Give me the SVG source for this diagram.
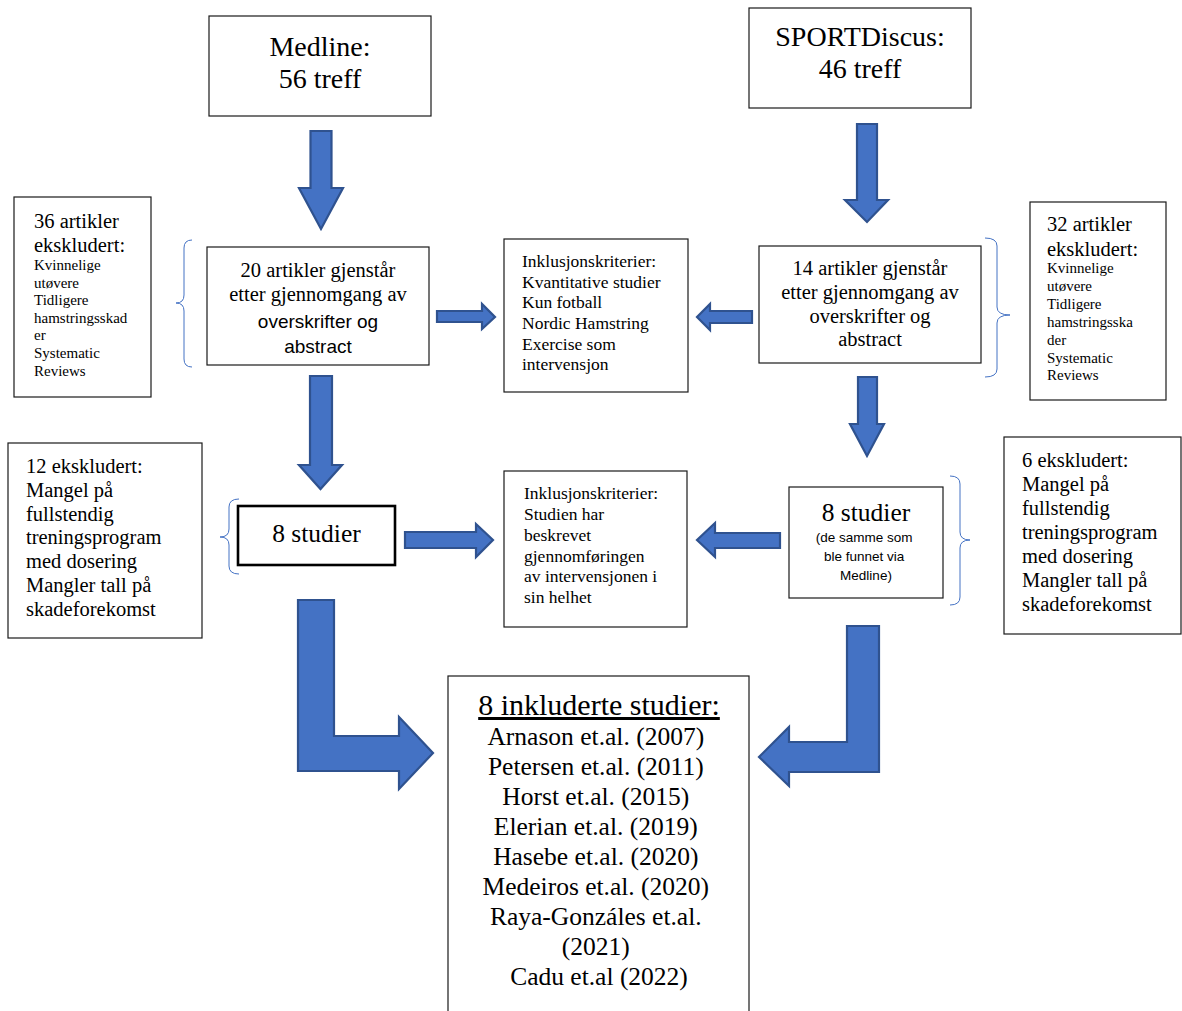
<svg xmlns="http://www.w3.org/2000/svg" width="1182" height="1011" viewBox="0 0 1182 1011">
<style>
.box{fill:#fff;stroke:#1a1a1a;stroke-width:1.2}
.thick{fill:#fff;stroke:#000;stroke-width:2.6}
.arrow{fill:#4472C4;stroke:#2F528F;stroke-width:2.2;stroke-linejoin:miter}
.brace{fill:none;stroke:#4472C4;stroke-width:1}
.s{font-family:"Liberation Serif","Times New Roman",serif;fill:#000}
.a{font-family:"Liberation Sans",Arial,sans-serif;fill:#000}
.c{text-anchor:middle}
</style>
<rect width="1182" height="1011" fill="#fff"/>
<g id="connectors">
  <path class="arrow" d="M310.5,131 L331.5,131 L331.5,188 L343,188 L321,229 L299,188 L310.5,188 Z"/>
  <path class="arrow" d="M857,124 L877,124 L877,200 L888,200 L867,222 L845,200 L857,200 Z"/>
  <path class="arrow" d="M310,376 L332,376 L332,465 L342,465 L320.5,489 L299,465 L310,465 Z"/>
  <path class="arrow" d="M858,377 L877,377 L877,424 L884,424 L867,456 L850,424 L858,424 Z"/>
  <path class="arrow" d="M437,311 L482,311 L482,304 L495,317 L482,329 L482,322 L437,322 Z"/>
  <path class="arrow" d="M752,311 L710,311 L710,304 L697,317 L710,330 L710,323 L752,323 Z"/>
  <path class="arrow" d="M405,532 L476,532 L476,524 L493,540 L476,557 L476,548 L405,548 Z"/>
  <path class="arrow" d="M780,533 L715,533 L715,523 L697,540 L715,557 L715,548 L780,548 Z"/>
  <path class="arrow" d="M298,600 L334,600 L334,736 L399,736 L399,717 L433,753 L399,789 L399,771 L298,771 Z"/>
  <path class="arrow" d="M847,626 L879,626 L879,772 L789,772 L789,786 L759,757 L789,727 L789,742 L847,742 Z"/>
  <path class="brace" d="M192,240 Q184,240 184,248 L184,295 Q184,303 176,303 Q184,303 184,311 L184,359 Q184,367 192,367"/>
  <path class="brace" d="M239,499 Q229,499 229,507 L229,529 Q229,537 220,537 Q229,537 229,545 L229,566 Q229,574 239,574"/>
  <path class="brace" d="M985,238 Q997,238 997,246 L997,307 Q997,315 1010,315 Q997,315 997,323 L997,369 Q997,377 985,377"/>
  <path class="brace" d="M950,476 Q960,476 960,484 L960,532 Q960,540 970,540 Q960,540 960,548 L960,597 Q960,605 950,605"/>
</g>
<g id="medline">
  <rect class="box" x="209" y="16" width="222" height="100"/>
  <text class="s c" x="320" y="56" font-size="28">Medline:</text>
  <text class="s c" x="320" y="88" font-size="28">56 treff</text>
</g>
<g id="sportdiscus">
  <rect class="box" x="749" y="8" width="222" height="100"/>
  <text class="s c" x="860" y="46" font-size="28">SPORTDiscus:</text>
  <text class="s c" x="860" y="78" font-size="28">46 treff</text>
</g>
<g id="excl36">
  <rect class="box" x="14" y="197" width="137" height="200"/>
  <text class="s" x="34" y="228" font-size="20.5">36 artikler</text>
  <text class="s" x="34" y="252" font-size="20.5">ekskludert:</text>
  <text class="s" font-size="15">
    <tspan x="34" y="270">Kvinnelige</tspan>
    <tspan x="34" y="287.6">utøvere</tspan>
    <tspan x="34" y="305.2">Tidligere</tspan>
    <tspan x="34" y="322.8">hamstringsskad</tspan>
    <tspan x="34" y="340.4">er</tspan>
    <tspan x="34" y="358">Systematic</tspan>
    <tspan x="34" y="375.6">Reviews</tspan>
  </text>
</g>
<g id="remain20">
  <rect class="box" x="207" y="247" width="222" height="118"/>
  <text class="s c" x="318" y="277" font-size="20.5">20 artikler gjenstår</text>
  <text class="s c" x="318" y="301" font-size="20.5">etter gjennomgang av</text>
  <text class="a c" x="318" y="328" font-size="19">overskrifter og</text>
  <text class="a c" x="318" y="353" font-size="19">abstract</text>
</g>
<g id="inclusion1">
  <rect class="box" x="504" y="239" width="184" height="153"/>
  <text class="s" font-size="17.5">
    <tspan x="522" y="267">Inklusjonskriterier:</tspan>
    <tspan x="522" y="287.5">Kvantitative studier</tspan>
    <tspan x="522" y="308">Kun fotball</tspan>
    <tspan x="522" y="328.5">Nordic Hamstring</tspan>
    <tspan x="522" y="350">Exercise som</tspan>
    <tspan x="522" y="370">intervensjon</tspan>
  </text>
</g>
<g id="remain14">
  <rect class="box" x="759" y="246" width="222" height="117"/>
  <text class="s c" x="870" y="275" font-size="20.5">14 artikler gjenstår</text>
  <text class="s c" x="870" y="299" font-size="20.5">etter gjennomgang av</text>
  <text class="s c" x="870" y="323" font-size="20.5">overskrifter og</text>
  <text class="s c" x="870" y="346" font-size="20.5">abstract</text>
</g>
<g id="excl32">
  <rect class="box" x="1030" y="202" width="136" height="198"/>
  <text class="s" x="1047" y="231" font-size="20.5">32 artikler</text>
  <text class="s" x="1047" y="256" font-size="20.5">ekskludert:</text>
  <text class="s" font-size="15">
    <tspan x="1047" y="273">Kvinnelige</tspan>
    <tspan x="1047" y="291">utøvere</tspan>
    <tspan x="1047" y="309">Tidligere</tspan>
    <tspan x="1047" y="327">hamstringsska</tspan>
    <tspan x="1047" y="344.5">der</tspan>
    <tspan x="1047" y="362.5">Systematic</tspan>
    <tspan x="1047" y="380">Reviews</tspan>
  </text>
</g>
<g id="excl12">
  <rect class="box" x="8" y="443" width="194" height="195"/>
  <text class="s" font-size="20.5">
    <tspan x="26" y="473">12 ekskludert:</tspan>
    <tspan x="26" y="497">Mangel på</tspan>
    <tspan x="26" y="520.5">fullstendig</tspan>
    <tspan x="26" y="544">treningsprogram</tspan>
    <tspan x="26" y="568">med dosering</tspan>
    <tspan x="26" y="592">Mangler tall på</tspan>
    <tspan x="26" y="615.5">skadeforekomst</tspan>
  </text>
</g>
<g id="studies8left">
  <rect class="thick" x="238" y="506" width="157" height="59"/>
  <text class="s c" x="316.5" y="542" font-size="25.5">8 studier</text>
</g>
<g id="inclusion2">
  <rect class="box" x="504" y="471" width="183" height="156"/>
  <text class="s" font-size="17.5">
    <tspan x="524" y="499">Inklusjonskriterier:</tspan>
    <tspan x="524" y="520">Studien har</tspan>
    <tspan x="524" y="541">beskrevet</tspan>
    <tspan x="524" y="561.5">gjennomføringen</tspan>
    <tspan x="524" y="582">av intervensjonen i</tspan>
    <tspan x="524" y="603">sin helhet</tspan>
  </text>
</g>
<g id="studies8right">
  <rect class="box" x="789" y="487" width="154" height="111"/>
  <text class="s c" x="866" y="521" font-size="25.5">8 studier</text>
  <text class="a c" font-size="13.5">
    <tspan x="866" y="542">(de samme som</tspan>
    <tspan x="866" y="561">ble funnet via</tspan>
    <tspan x="866" y="580">Medline)</tspan>
  </text>
</g>
<g id="excl6">
  <rect class="box" x="1004" y="437" width="177" height="197"/>
  <text class="s" font-size="20.5">
    <tspan x="1022" y="467">6 ekskludert:</tspan>
    <tspan x="1022" y="491">Mangel på</tspan>
    <tspan x="1022" y="515">fullstendig</tspan>
    <tspan x="1022" y="539">treningsprogram</tspan>
    <tspan x="1022" y="563">med dosering</tspan>
    <tspan x="1022" y="587">Mangler tall på</tspan>
    <tspan x="1022" y="610.5">skadeforekomst</tspan>
  </text>
</g>
<g id="included">
  <rect class="box" x="448" y="676" width="301" height="345"/>
  <text class="s c" x="599" y="715" font-size="30" text-decoration="underline">8 inkluderte studier:</text>
  <text class="s c" font-size="25.5">
    <tspan x="599" y="745">Arnason et.al. (2007)</tspan>
    <tspan x="599" y="775">Petersen et.al. (2011)</tspan>
    <tspan x="599" y="805">Horst et.al. (2015)</tspan>
    <tspan x="599" y="835">Elerian et.al. (2019)</tspan>
    <tspan x="599" y="865">Hasebe et.al. (2020)</tspan>
    <tspan x="599" y="895">Medeiros et.al. (2020)</tspan>
    <tspan x="599" y="925">Raya-Gonzáles et.al.</tspan>
    <tspan x="599" y="955">(2021)</tspan>
    <tspan x="599" y="985">Cadu et.al (2022)</tspan>
  </text>
</g>
</svg>
